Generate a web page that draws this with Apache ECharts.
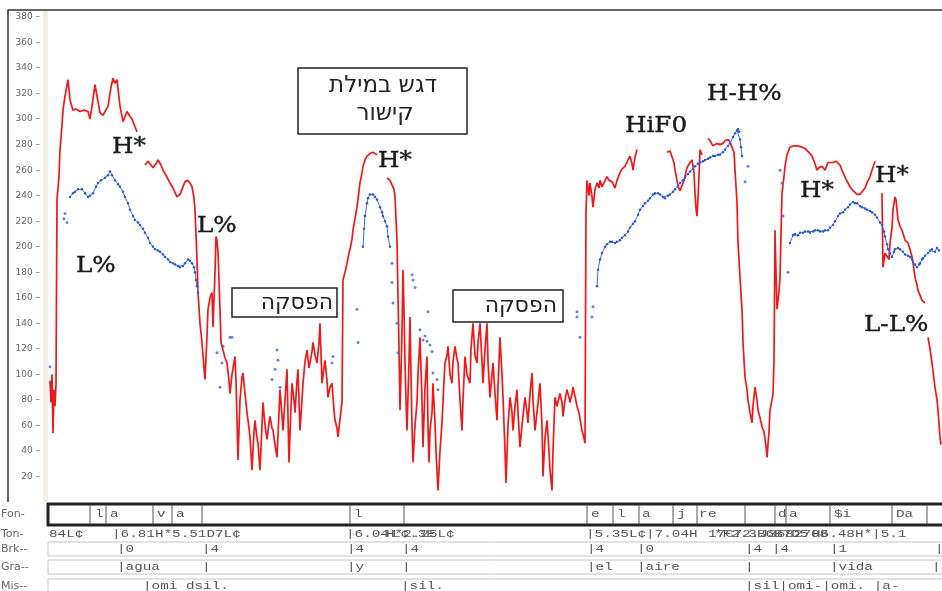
<!DOCTYPE html>
<html>
<head>
<meta charset="utf-8">
<script src="https://cdn.jsdelivr.net/npm/echarts@6.0.0/dist/echarts.min.js"></script>
<style>
  html, body { margin: 0; padding: 0; background: #fff; }
  #pitch { width: 942px; height: 591px; }
</style>
</head>
<body>
<div id="pitch"></div>
<script>
// analysis frame -> F0 (Hz), null = unvoiced gap
var pitchTrack = [
  [50,95],[51,78],[52,100],[53,54],[54,88],[55,75],[56,92],[57,237],[59,255],[60,276],[62,295],[63,307],[65,318],[68,331],
  [70,315],[73,307],[76,308],[80,306],[84,307],[88,306],[90,300],[92,310],[95,327],[97,318],[100,305],[103,303],[105,302],
  [108,310],[111,325],[113,332],[115,328],[117,331],[120,310],[123,298],[127,306],[130,302],[132,300],[135,294],[137,290],
  [141,null],
  [145,264],[148,267],[150,266],[153,262],[156,265],[158,268],[161,264],[163,260],[166,256],[170,250],[173,246],[177,239],
  [180,241],[182,242],[185,251],[188,252],[190,250],[192,247],[194,238],[195,229],[197,190],[198,164],[200,140],[202,125],
  [204,105],[205,96],[207,130],[208,151],[210,160],[212,164],[213,137],[215,180],[216,208],[217,205],[218,196],[220,151],
  [221,125],[223,119],[225,113],[227,109],[229,95],[230,85],[232,100],[235,114],[236,95],[238,33],[240,80],[242,98],
  [243,101],[245,85],[247,70],[249,58],[250,51],[252,25],[254,55],[255,64],[257,50],[258,46],[260,25],[262,60],[263,78],
  [265,60],[267,49],[269,62],[270,67],[272,58],[273,56],[275,45],[277,35],[279,70],[280,88],[282,68],[283,56],[285,80],
  [287,104],[289,31],[291,75],[292,93],[294,80],[295,70],[297,95],[298,104],[300,56],[302,80],[303,93],[305,110],[307,119],
  [309,105],[310,109],[312,118],[313,125],[315,115],[317,109],[319,125],[320,140],[322,93],[324,105],[325,111],[327,95],
  [328,82],[330,90],[332,93],[334,72],[335,64],[337,58],[338,51],[340,65],[342,78],[343,174],[345,180],[347,187],[349,195],
  [350,198],[352,206],[353,213],[355,222],[357,231],[359,244],[360,250],[362,258],[363,263],[365,268],[367,271],[370,273],
  [373,274],[377,272],
  [382,null],
  [387,254],[390,252],[392,252],[394,245],[395,239],[396,222],[397,205],[398,161],[399,120],[400,72],[401,100],[402,135],
  [403,182],[404,150],[405,109],[406,80],[407,56],[409,110],[410,145],[411,100],[412,60],[413,31],[415,60],[417,78],
  [418,100],[420,129],[422,80],[423,43],[425,90],[427,114],[428,60],[429,31],[430,56],[432,70],[433,93],[435,62],[436,40],
  [438,9],[440,40],[442,62],[444,95],[445,109],[447,115],[448,122],[450,100],[452,93],[453,110],[455,122],[457,112],
  [458,109],[460,80],[462,56],[463,80],[465,114],[467,100],[470,93],[471,120],[473,140],[475,115],[477,109],[478,125],
  [480,140],[482,110],[483,93],[485,120],[487,140],[488,110],[490,82],[492,100],[493,109],[495,85],[497,64],[498,90],
  [500,129],[502,100],[503,82],[505,40],[506,15],[508,60],[510,82],[512,70],[513,56],[515,75],[517,88],[518,70],[520,43],
  [522,60],[525,82],[527,70],[528,62],[530,85],[532,101],[533,80],[535,56],[537,70],[540,93],[542,60],[543,20],[545,50],
  [547,64],[549,40],[550,25],[552,9],[553,40],[555,82],[557,75],[560,85],[562,78],[563,67],[565,80],[567,88],[569,82],
  [570,78],[572,85],[573,90],[575,83],[577,75],[579,70],[580,65],[582,56],[584,50],[585,46],[586,227],[587,252],[589,240],
  [590,250],[592,239],[593,231],[595,245],[597,250],[599,246],[600,252],[602,247],[604,250],[607,255],[609,252],[612,251],
  [615,246],[617,252],[620,258],[622,261],[625,263],[628,268],[630,271],[632,265],[633,260],[635,270],[637,276],
  [650,null],
  [667,274],[670,275],[672,274],[674,266],[675,260],[677,252],[678,247],[680,244],[682,245],[684,252],[687,262],[690,266],
  [692,268],[694,258],[695,242],[696,230],[697,224],[698,238],[699,255],[700,276],[702,272],
  [705,null],
  [708,285],[710,283],[712,282],[713,279],[715,278],[717,281],[718,282],[720,280],[723,281],[725,283],[728,284],[730,282],
  [732,281],[734,274],[735,260],[737,235],[738,203],[740,176],[742,151],[743,125],[745,98],[747,88],[748,80],[750,70],
  [752,62],[753,75],[755,90],[757,80],[758,72],[760,66],[762,59],[764,55],[765,49],[766,44],[767,35],[769,55],[770,72],
  [772,80],[773,85],[774,110],[775,213],[776,180],[777,151],[779,165],[780,176],[781,210],[782,242],[784,255],[785,263],
  [787,272],[790,278],[793,279],[795,278],[798,279],[802,278],[805,277],[807,276],[810,273],[812,271],[815,265],[817,260],
  [819,262],[822,263],[825,260],[828,266],[830,265],[833,266],[836,267],[838,268],[840,264],[843,258],[846,253],[850,247],
  [853,244],[857,241],[860,241],[862,242],[865,246],[867,250],[870,255],[872,260],[875,267],
  [878,null],
  [882,242],[883,184],[885,195],[887,195],[889,190],[890,203],[892,215],[893,229],[895,239],[896,237],[898,221],[900,216],
  [902,213],[904,208],[905,205],[907,204],[908,203],[910,198],[912,192],[913,188],[915,176],[917,170],[918,166],[920,162],
  [922,158],[925,156],
  [926,null],
  [928,129],[930,120],[932,109],[934,96],[935,90],[937,80],[938,72],[940,51],[941,45]
];

// smoothed contour (blue dotted)
var contour = [
  [70,239],[73,242],[75,243],[78,245],[82,245],[85,242],[88,239],[90,240],[93,242],[96,247],[98,250],[101,252],[105,254],
  [108,256],[110,259],[112,256],[115,252],[118,249],[120,247],[123,243],[125,239],[128,234],[130,229],[133,224],[135,221],
  [138,219],[140,217],[143,214],[145,211],[148,207],[150,203],[153,200],[155,198],[158,197],[160,196],[163,194],[165,192],
  [168,190],[170,188],[173,187],[175,186],[178,185],[180,184],[183,185],[185,187],[188,190],[190,189],[192,187],[194,184],
  [195,180],[196,174],[197,169],[198,164],
  [300,null],
  [363,200],[364,214],[365,224],[367,234],[368,238],[370,241],[373,241],[375,239],[377,237],[380,231],[382,227],[383,224],
  [385,220],[387,216],[388,208],[390,200],
  [500,null],
  [597,169],[598,182],[600,190],[602,195],[605,200],[607,202],[610,204],[612,204],[615,203],[617,204],[620,205],[622,207],
  [625,209],[628,212],[630,215],[633,218],[635,220],[638,225],[640,229],[643,232],[645,234],[648,236],[650,238],[653,241],
  [655,242],[658,242],[660,241],[663,239],[665,238],[668,240],[670,241],[673,243],[675,245],[678,248],[680,250],[683,252],
  [685,254],[688,257],[690,259],[693,261],[695,263],[698,265],[700,266],[703,267],[705,268],[708,269],[710,270],[713,271],
  [715,271],[718,272],[720,272],[723,274],[725,276],[728,279],[730,281],[733,286],[735,289],[737,291],[738,292],[739,290],
  [740,284],[741,278],[742,271],
  [760,null],
  [790,203],[793,209],[795,210],[798,209],[800,211],[803,211],[805,212],[808,212],[810,211],[813,212],[815,213],[818,213],
  [820,212],[823,212],[825,213],[828,213],[830,215],[833,217],[835,220],[838,224],[840,226],[843,227],[845,229],[848,231],
  [850,233],[853,235],[855,234],[857,234],[860,232],[862,231],[865,230],[867,229],[870,228],[872,227],[875,225],[877,223],
  [880,219],[882,217],[884,212],[885,208],[887,202],[888,198],[890,195],[892,192],[894,196],[895,198],[898,199],[900,198],
  [903,196],[905,194],[908,193],[910,192],[912,190],[913,188],[915,186],[917,184],[919,186],[920,187],[922,190],[923,191],
  [925,193],[928,195],[930,197],[932,198],[935,196],[937,199],[939,197]
];

// stray contour points
var contourStray = [
  [50,106],[64,222],[65,226],[67,219],[217,117],[220,90],[222,109],[223,122],[230,129],[232,129],[272,96],[275,104],
  [277,119],[278,111],[280,90],[332,109],[333,114],[357,151],[358,125],[392,187],[392,172],[393,156],[397,140],[398,117],
  [412,178],[413,174],[415,168],[420,135],[423,127],[425,130],[427,126],[428,149],[430,123],[432,118],[433,101],[437,96],
  [438,88],[577,149],[577,145],[580,129],[592,145],[593,153],[745,251],[748,263],[780,260],[782,250],[783,224],[788,180]
];

// tone labels drawn over the plot
var toneLabels = [
  { text: 'H*', x: 112, y: 147 },
  { text: 'L%', x: 76, y: 266 },
  { text: 'L%', x: 197, y: 226 },
  { text: 'H*', x: 378, y: 161 },
  { text: 'HiF0', x: 625, y: 126 },
  { text: 'H-H%', x: 707, y: 94 },
  { text: 'H*', x: 800, y: 191 },
  { text: 'H*', x: 875, y: 176 },
  { text: 'L-L%', x: 864, y: 325 }
];

var tierNames = ['Fon-', 'Ton-', 'Brk--', 'Gra--', 'Mis--'];
var fonCuts = [90, 106, 153, 172, 202, 350, 404, 587, 613, 639, 673, 697, 745, 775, 786, 830, 892, 927];
var fonMarks = [['l',95],['a',110],['v',157],['a',176],['l',354],['e',591],['l',617],['a',642],['j',677],['r',699],
  ['e',708],['d',778],['a',789],['$i',834],['Da',896]];
var tonMarks = [['84L\u00a2',49],['|6.81H*5.51D7L\u00a2',112],['|6.04',346],['H*2.25L\u00a2',386],['L\u00a2.3E',392],
  ['|5.35L\u00a2|7.04H',586],['17C72.J3682708',708],['*F2.3B6B7D5',714],['H6.48H*|5.1',812]];
var brkMarks = [['|0',117],['|4',202],['|4',347],['|4',402],['|4',587],['|0',637],['|4',745],['|4',772],['|1',830],['|4',935]];
var graMarks = [['|agua',117],['|',202],['|y',347],['|',402],['|el',587],['|aire',637],['|',745],['|vida',830],['|',932]];
var misMarks = [['|omi dsil.',143],['|sil.',401],['|sil|omi-|omi. |a-',745]];

$init();

function $init() {
    var myChart = echarts.init(document.getElementById('pitch'));

    var graphics = [];
    // outer frame + ruler stripe
    graphics.push({ type: 'rect', z: 1, shape: { x: 8, y: 10, width: 960, height: 600 },
        style: { fill: null, stroke: '#333', lineWidth: 1.5 } });
    graphics.push({ type: 'rect', z: 1, shape: { x: 43, y: 11, width: 5, height: 491 },
        style: { fill: '#f1ede0' } });

    toneLabels.forEach(function (l) {
        graphics.push({ type: 'text', z: 10, x: l.x, y: l.y, scaleX: 1.12,
            style: { text: l.text, fill: '#1a1a1a', font: '22px "DejaVu Serif"', textVerticalAlign: 'middle',
                stroke: '#1a1a1a', lineWidth: 0.4 } });
    });

    // hebrew boxes
    graphics.push({ type: 'rect', z: 10, shape: { x: 298, y: 68, width: 169, height: 66 },
        style: { fill: '#fff', stroke: '#222', lineWidth: 1.5 } });
    graphics.push({ type: 'text', z: 11, x: 383, y: 86,
        style: { text: 'דגש במילת', fill: '#222', font: '23px "DejaVu Sans"', textAlign: 'center', textVerticalAlign: 'middle' } });
    graphics.push({ type: 'text', z: 11, x: 385, y: 114,
        style: { text: 'קישור', fill: '#222', font: '23px "DejaVu Sans"', textAlign: 'center', textVerticalAlign: 'middle' } });
    graphics.push({ type: 'rect', z: 10, shape: { x: 232, y: 288, width: 105, height: 29 },
        style: { fill: '#fff', stroke: '#222', lineWidth: 1.5 } });
    graphics.push({ type: 'text', z: 11, x: 333, y: 303,
        style: { text: 'הפסקה', fill: '#222', font: '22px "DejaVu Sans"', textAlign: 'right', textVerticalAlign: 'middle' } });
    graphics.push({ type: 'rect', z: 10, shape: { x: 453, y: 290, width: 110, height: 32 },
        style: { fill: '#fff', stroke: '#222', lineWidth: 1.5 } });
    graphics.push({ type: 'text', z: 11, x: 557, y: 306,
        style: { text: 'הפסקה', fill: '#222', font: '22px "DejaVu Sans"', textAlign: 'right', textVerticalAlign: 'middle' } });

    // label tiers under the plot
    var tierY = [514, 534, 549, 567, 586];
    graphics.push({ type: 'rect', z: 5, shape: { x: 0, y: 502, width: 942, height: 89 }, style: { fill: '#fff' } });
    tierNames.forEach(function (n, i) {
        graphics.push({ type: 'text', z: 6, x: 1, y: tierY[i],
            style: { text: n, fill: '#666', font: '11px "DejaVu Sans"', textVerticalAlign: 'middle' } });
    });
    graphics.push({ type: 'rect', z: 6, shape: { x: 48, y: 504, width: 900, height: 21 },
        style: { fill: null, stroke: '#222', lineWidth: 3 } });
    fonCuts.forEach(function (x) {
        graphics.push({ type: 'line', z: 6, shape: { x1: x, y1: 505, x2: x, y2: 524 }, style: { stroke: '#555', lineWidth: 1 } });
    });
    [[542, 14], [560, 14], [579, 14]].forEach(function (b) {
        graphics.push({ type: 'rect', z: 6, shape: { x: 48, y: b[0], width: 900, height: b[1] },
            style: { fill: null, stroke: '#c4c4c4', lineWidth: 1 } });
    });
    function tierText(list, y) {
        list.forEach(function (m) {
            graphics.push({ type: 'text', z: 7, x: m[1], y: y, scaleX: 1.3,
                style: { text: m[0], fill: '#555', font: '11px "Liberation Mono"', textVerticalAlign: 'middle' } });
        });
    }
    tierText(fonMarks, tierY[0]);
    tierText(tonMarks, tierY[1]);
    tierText(brkMarks, tierY[2]);
    tierText(graMarks, tierY[3]);
    tierText(misMarks, tierY[4]);

    var option = {
        animation: false,
        backgroundColor: '#fff',
        grid: { left: 48, right: 0, top: 17, bottom: 89 },
        xAxis: {
            type: 'value', min: 48, max: 942, show: false
        },
        yAxis: {
            type: 'value', min: 0, max: 380, interval: 20,
            axisLine: { show: false },
            axisTick: { show: false },
            splitLine: { show: false },
            axisLabel: {
                color: '#666', fontSize: 9, margin: 8, fontFamily: 'DejaVu Sans',
                formatter: function (v) { return v === 0 ? '' : v + ' \u2013'; }
            }
        },
        series: [
            {
                type: 'line', data: pitchTrack, showSymbol: false, connectNulls: false,
                lineStyle: { color: '#f01818', width: 1.7 }, z: 3
            },
            {
                type: 'line', data: contour, connectNulls: false,
                symbol: 'circle', symbolSize: 2.5, showSymbol: true,
                itemStyle: { color: '#2a5ccf' },
                lineStyle: { color: '#3b6fe0', width: 1 }, z: 4
            },
            {
                type: 'scatter', data: contourStray, symbolSize: 3,
                itemStyle: { color: '#3a6ad8' }, z: 4
            }
        ],
        graphic: graphics
    };

    myChart.setOption(option);
}
</script>
</body>
</html>
